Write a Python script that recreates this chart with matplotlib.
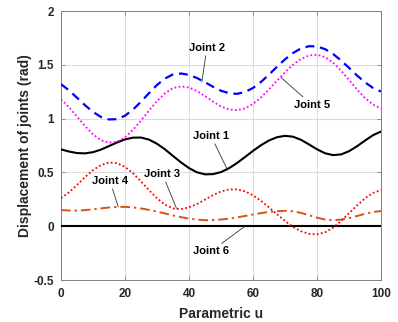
import matplotlib
matplotlib.use("Agg")
import matplotlib.pyplot as plt

plt.rcParams['font.family'] = ['Liberation Sans', 'DejaVu Sans']

u = [0, 2.5, 5, 7.5, 10, 12.5, 15, 17.5, 20, 22.5, 25, 27.5, 30, 32.5, 35, 37.5,
     40, 42.5, 45, 47.5, 50, 52.5, 55, 57.5, 60, 62.5, 65, 67.5, 70, 72.5, 75,
     77.5, 80, 82.5, 85, 87.5, 90, 92.5, 95, 97.5, 100]

joint1 = [0.714, 0.694, 0.680, 0.677, 0.688, 0.712, 0.745, 0.778, 0.807, 0.823, 0.824,
          0.805, 0.766, 0.714, 0.653, 0.593, 0.540, 0.501, 0.482, 0.484, 0.503,
          0.539, 0.587, 0.643, 0.700, 0.753, 0.797, 0.827, 0.840, 0.832, 0.803,
          0.760, 0.715, 0.678, 0.661, 0.667, 0.697, 0.743, 0.796, 0.846, 0.880]

joint2 = [1.320, 1.262, 1.194, 1.124, 1.062, 1.015, 0.992, 0.995, 1.027, 1.084, 1.157,
          1.237, 1.313, 1.373, 1.411, 1.419, 1.407, 1.377, 1.338, 1.296, 1.259,
          1.236, 1.230, 1.247, 1.285, 1.341, 1.409, 1.482, 1.551, 1.610, 1.652,
          1.673, 1.671, 1.646, 1.601, 1.541, 1.472, 1.401, 1.337, 1.285, 1.252]

joint3 = [0.260, 0.315, 0.384, 0.456, 0.521, 0.569, 0.592, 0.586, 0.551, 0.492, 0.416,
          0.335, 0.259, 0.200, 0.165, 0.159, 0.175, 0.206, 0.247, 0.289, 0.323,
          0.342, 0.343, 0.324, 0.287, 0.236, 0.175, 0.111, 0.049, -0.006, -0.047,
          -0.071, -0.076, -0.057, -0.014, 0.048, 0.120, 0.193, 0.259, 0.309, 0.336]

joint4 = [0.150, 0.146, 0.145, 0.149, 0.157, 0.166, 0.174, 0.179, 0.180, 0.175, 0.165,
          0.152, 0.136, 0.118, 0.100, 0.084, 0.071, 0.061, 0.056, 0.057, 0.062,
          0.070, 0.082, 0.095, 0.109, 0.122, 0.133, 0.140, 0.143, 0.139, 0.124,
          0.102, 0.080, 0.062, 0.056, 0.061, 0.075, 0.095, 0.115, 0.132, 0.141]

joint5 = [1.180, 1.106, 1.019, 0.931, 0.853, 0.800, 0.776, 0.786, 0.827, 0.896, 0.982,
          1.075, 1.163, 1.236, 1.283, 1.300, 1.288, 1.256, 1.209, 1.158, 1.113,
          1.085, 1.078, 1.095, 1.136, 1.197, 1.272, 1.352, 1.431, 1.501, 1.555,
          1.587, 1.594, 1.572, 1.521, 1.447, 1.360, 1.271, 1.191, 1.130, 1.096]

joint6 = [0.0] * len(u)

labels = ["Joint 1", "Joint 2", "Joint 3", "Joint 4", "Joint 5", "Joint 6"]
# (text position, arrow target) in data coords
label_text = [(46.9, 0.838), (45.6, 1.657), (31.7, 0.484), (15.3, 0.419), (78.3, 1.13), (46.9, -0.233)]
label_tip = [(51.8, 0.537), (44.0, 1.34), (36.1, 0.165), (17.9, 0.18), (68.75, 1.383), (57.5, 0.0)]

xticks = [0, 20, 40, 60, 80, 100]
yticks = [-0.5, 0, 0.5, 1, 1.5, 2]
ytick_labels = ["-0.5", "0", "0.5", "1", "1.5", "2"]

fig = plt.figure(figsize=(3.98, 3.22), dpi=100)
ax = fig.add_axes([0.1533, 0.1304, 0.804, 0.8354])

tc = '#262626'
ax.plot(u, joint6, color='black', lw=1.5, zorder=3)
ax.plot(u, joint4, color='#D95319', lw=1.4, linestyle=(0, (5, 2, 1.2, 2)), zorder=3)
ax.plot(u, joint3, color='#FF0000', lw=1.3, linestyle=(0, (1, 1.3)), zorder=3)
ax.plot(u, joint1, color='black', lw=1.5, zorder=3)
ax.plot(u, joint5, color='#FF00FF', lw=1.3, linestyle=(0, (1, 1.3)), zorder=3)
ax.plot(u, joint2, color='#0000FF', lw=1.6, linestyle=(0, (4, 2.6)), zorder=3)

for lab, (tx, ty), (px, py) in zip(labels, label_text, label_tip):
    ax.annotate(lab, xy=(px, py), xytext=(tx, ty), ha='center', va='center',
                fontsize=8, fontweight='bold', color='black',
                arrowprops=dict(arrowstyle='-', color='#333333', lw=0.6,
                                shrinkA=0, shrinkB=0), zorder=5)

ax.set_xlim(0, 100)
ax.set_ylim(-0.5, 2)
ax.set_xticks(xticks)
ax.set_yticks(yticks)
ax.set_yticklabels(ytick_labels)
ax.grid(True, color='#dcdcdc', lw=0.8, zorder=0)
ax.set_axisbelow(True)
ax.tick_params(direction='in', length=3, width=0.6, colors='#808080',
               labelcolor=tc, labelsize=8.5, top=True, right=True)
ax.tick_params(axis='x', pad=6)
ax.tick_params(axis='y', pad=5)
for lab in ax.get_xticklabels() + ax.get_yticklabels():
    lab.set_fontweight('bold')
for s in ax.spines.values():
    s.set_color('#808080')
    s.set_linewidth(0.7)

ax.set_xlabel("Parametric u", fontsize=10, fontweight='bold', color=tc, labelpad=5)
ax.set_ylabel("Displacement of joints (rad)", fontsize=10, fontweight='bold', color=tc, labelpad=1)

fig.savefig("out.png", dpi=100)
